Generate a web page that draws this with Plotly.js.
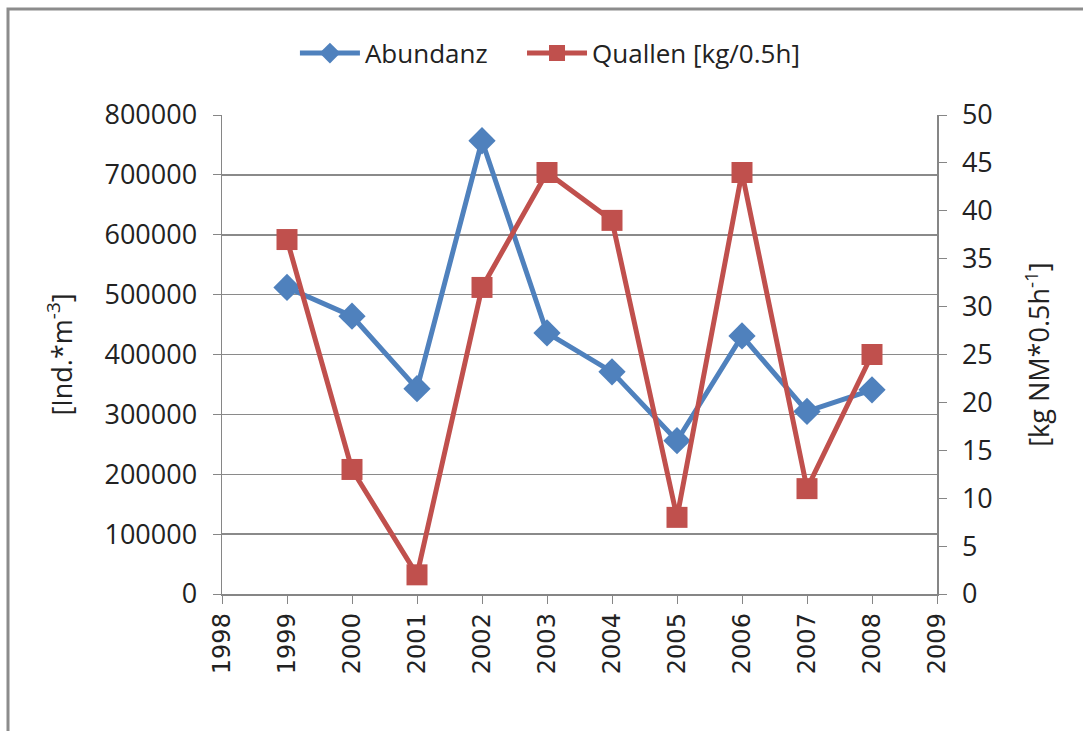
<!DOCTYPE html>
<html><head><meta charset="utf-8">
<script src="https://cdn.plot.ly/plotly-3.0.1.min.js"></script>
<style>html,body{margin:0;padding:0;background:#fff}#chart{width:1083px;height:731px}</style>
</head><body><div id="chart"></div>
<script>
const years = [1999, 2000, 2001, 2002, 2003, 2004, 2005, 2006, 2007, 2008];
const abundanz = [512000, 464000, 343000, 757000, 436000, 371000, 256000, 431000, 305000, 341000];
const quallen = [37, 13, 2, 32, 44, 39, 8, 44, 11, 25];
const seriesNames = ['Abundanz', 'Quallen [kg/0.5h]'];
const leftTitle = '[Ind.*m<sup>-3</sup>]';
const rightTitle = '[kg NM*0.5h<sup>-1</sup>]';

const tickFont = {family: 'Open Sans, sans-serif', size: 27, color: '#222'};
const legendFont = {family: 'Open Sans, sans-serif', size: 26, color: '#222'};
const traces = [
  {x: years, y: abundanz, name: seriesNames[0], type: 'scatter', mode: 'lines+markers', legend: 'legend',
   line: {color: '#4F81BD', width: 5}, marker: {symbol: 'diamond', size: 21, color: '#4F81BD'}, yaxis: 'y'},
  {x: years, y: quallen, name: seriesNames[1], type: 'scatter', mode: 'lines+markers', legend: 'legend2',
   line: {color: '#C0504D', width: 5}, marker: {symbol: 'square', size: 21, color: '#C0504D'}, yaxis: 'y2'}
];
const layout = {
  width: 1083, height: 731,
  margin: {l: 222, r: 146, t: 115, b: 137},
  paper_bgcolor: '#fff', plot_bgcolor: '#fff',
  showlegend: true,
  legend: {orientation: 'h', x: 0.102, xanchor: 'left', y: 1.129, yanchor: 'middle',
           font: legendFont, itemwidth: 60},
  legend2: {orientation: 'h', x: 0.4196, xanchor: 'left', y: 1.129, yanchor: 'middle',
            font: legendFont, itemwidth: 60},
  xaxis: {range: [1998, 2009], dtick: 1, tick0: 1998, showgrid: false, zeroline: false,
          showline: true, linecolor: '#868686', linewidth: 1.5, ticks: 'outside', ticklen: 8,
          tickcolor: '#868686', tickangle: -90,
          tickfont: {family: 'DejaVu Sans, sans-serif', size: 24, color: '#222'}},
  yaxis: {range: [0, 800000], dtick: 100000, showgrid: true, gridcolor: '#8a8a8a', gridwidth: 1.5,
          zeroline: false, showline: true, linecolor: '#868686', linewidth: 1.5,
          ticks: 'outside', ticklen: 8, tickcolor: '#868686', tickfont: tickFont, ticklabelstandoff: 10,
          tickformat: 'd',
          title: {text: leftTitle, font: {family: 'Open Sans, sans-serif', size: 27, color: '#222'}, standoff: 24}},
  yaxis2: {range: [0, 50], dtick: 5, overlaying: 'y', side: 'right', showgrid: false, zeroline: false,
           showline: true, linecolor: '#868686', linewidth: 1.5, ticks: 'outside', ticklen: 8,
           tickcolor: '#868686', tickfont: tickFont, ticklabelstandoff: 10,
           title: {text: rightTitle, font: {family: 'Open Sans, sans-serif', size: 27, color: '#222'}, standoff: 38}},
  shapes: [
    {type: 'rect', xref: 'paper', yref: 'paper', x0: -0.2993, x1: 1.23, y0: -0.31, y1: 1.2213,
     line: {color: '#8c8c8c', width: 3}, fillcolor: 'rgba(0,0,0,0)', layer: 'below'}
  ]
};
Plotly.newPlot('chart', traces, layout, {displayModeBar: false, staticPlot: true});
</script></body></html>
